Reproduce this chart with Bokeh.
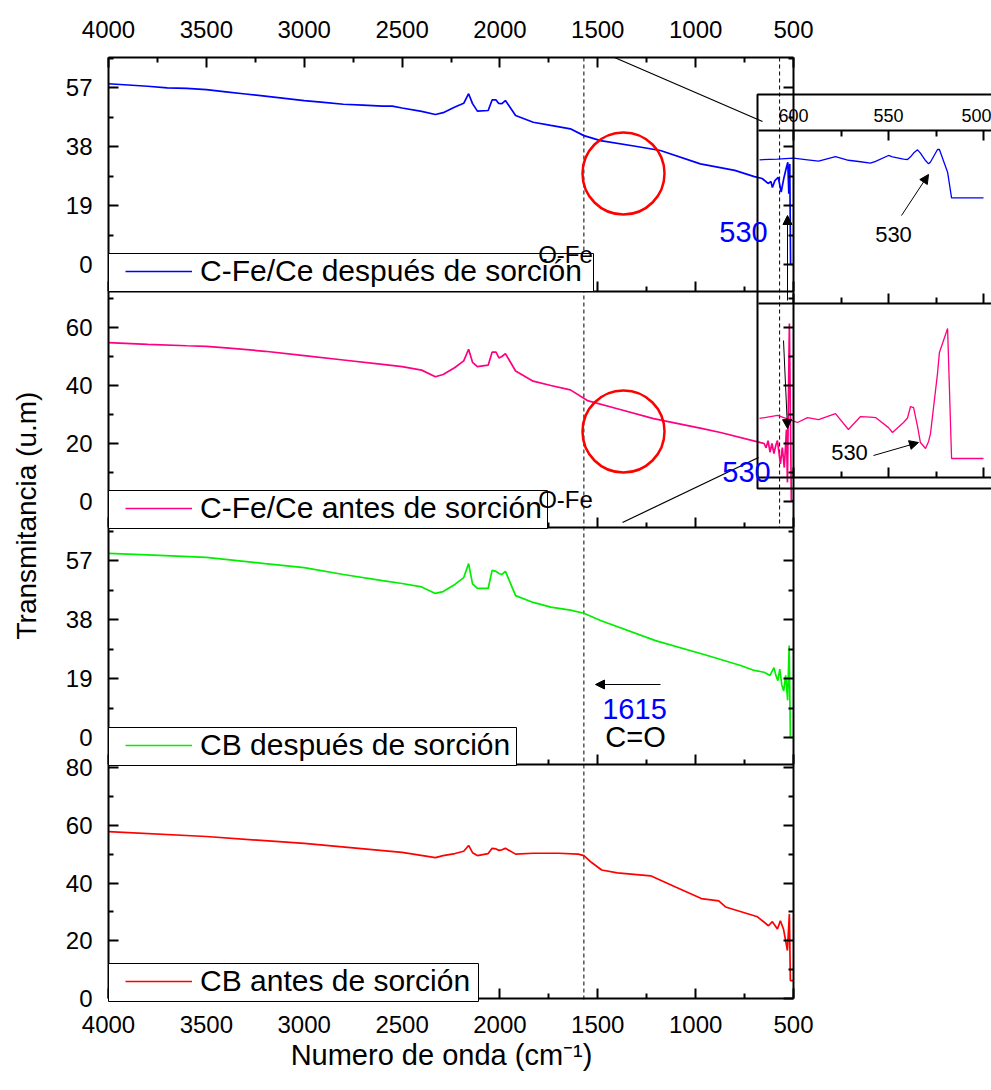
import math
from bokeh.plotting import figure
from bokeh.models import (Range1d, LinearAxis, FixedTicker, BoxAnnotation, Legend,
                          LegendItem, Label, Arrow, NormalHead)
from bokeh.embed import file_html
from bokeh.resources import INLINE

# ------------------------------------------------------------------ data
wn_cfece_despues = [4000, 3900, 3800, 3700, 3600, 3500, 3400, 3300, 3200, 3100, 3000, 2900,
                    2800, 2700, 2600, 2550, 2500, 2400, 2330, 2290, 2230, 2185, 2160, 2140,
                    2115, 2060, 2040, 2020, 2007, 1990, 1972, 1920, 1830, 1740, 1640, 1571,
                    1486, 1300, 1180, 976, 800, 700, 660, 630, 615, 608, 595, 578, 563, 550,
                    536, 529, 524, 519, 515, 500]
t_cfece_despues = [58.2, 57.8, 57.4, 56.9, 56.7, 56.3, 55.6, 54.9, 54.2, 53.5, 52.8, 52.2,
                   51.6, 51.3, 51.0, 51.0, 50.4, 49.3, 48.3, 48.9, 50.7, 51.9, 55.0, 51.8,
                   49.4, 49.6, 53.0, 53.0, 51.9, 51.8, 52.8, 48.0, 45.8, 44.8, 43.7, 41.5,
                   39.9, 38.0, 36.7, 32.4, 30.3, 28.3, 27.7, 26.1, 26.7, 24.8, 27.0, 28.1,
                   23.3, 27.6, 31.3, 32.9, 22.8, 32.4, 0.0, 0.0]

wn_cfece_antes = [4000, 3800, 3600, 3500, 3400, 3200, 3000, 2800, 2600, 2500, 2400, 2330,
                  2290, 2230, 2185, 2160, 2140, 2115, 2060, 2040, 2020, 2005, 1990, 1972,
                  1920, 1830, 1740, 1640, 1553, 1400, 1215, 971, 873, 668, 650, 640, 630,
                  620, 610, 600, 590, 582, 567, 557, 547, 536, 531, 521, 511, 500]
t_cfece_antes = [54.8, 54.2, 53.7, 53.5, 53.0, 51.8, 50.3, 48.8, 47.3, 46.5, 45.3, 43.0,
                 43.8, 46.2, 48.5, 52.5, 48.0, 46.5, 47.0, 51.5, 51.5, 49.5, 50.0, 51.0,
                 45.0, 41.5, 40.0, 38.5, 34.8, 32.0, 28.6, 25.2, 23.8, 20.3, 20.0, 18.5,
                 21.0, 17.0, 20.0, 16.5, 19.5, 21.0, 13.0, 18.6, 11.7, 24.8, 6.6, 61.4,
                 0.3, 0.3]

wn_cb_despues = [4000, 3800, 3500, 3200, 3000, 2800, 2600, 2500, 2400, 2330, 2290, 2230,
                 2185, 2160, 2140, 2115, 2060, 2040, 2020, 2005, 1990, 1972, 1920, 1830,
                 1740, 1640, 1571, 1486, 1205, 940, 770, 700, 650, 620, 600, 590, 580, 570,
                 560, 550, 540, 530, 522, 516, 500]
t_cb_despues = [59.3, 58.8, 58.0, 56.0, 54.7, 52.5, 50.5, 49.6, 48.5, 46.4, 47.0, 49.3,
                51.5, 56.0, 49.5, 48.0, 48.0, 53.8, 53.5, 52.8, 52.5, 53.5, 45.7, 43.5,
                42.0, 41.0, 40.0, 37.7, 31.2, 26.4, 23.2, 21.6, 21.0, 20.0, 22.5, 20.0,
                18.3, 22.0, 17.0, 15.0, 20.0, 12.0, 29.6, 0.0, 0.0]

wn_cb_antes = [4000, 3500, 3000, 2500, 2330, 2290, 2230, 2185, 2160, 2140, 2115, 2060,
               2040, 2020, 2005, 1990, 1972, 1920, 1829, 1700, 1600, 1571, 1530, 1480,
               1400, 1230, 1100, 971, 882, 847, 684, 628, 608, 582, 567, 551, 531, 521,
               516, 500]
t_cb_antes = [57.8, 56.1, 53.7, 50.6, 48.8, 49.5, 50.2, 51.0, 53.0, 50.5, 49.5, 50.2,
              52.0, 51.8, 51.3, 51.5, 52.0, 50.0, 50.3, 50.3, 50.0, 49.5, 47.0, 44.5,
              43.5, 42.5, 38.5, 34.6, 33.8, 31.7, 28.3, 25.2, 26.6, 24.1, 26.9, 24.0,
              16.6, 29.3, 6.2, 6.2]

inset_wn = [617.9, 608.4, 600.0, 597.9, 592.6, 586.8, 577.9, 571.1, 564.7, 559.5, 556.8,
            550.0, 547.9, 542.1, 540.0, 538.4, 536.8, 534.7, 533.2, 530.5, 528.9, 527.9,
            524.2, 523.2, 518.9, 516.8, 500.0]
inset_cfece_despues = [25.5, 26.0, 26.6, 26.3, 25.5, 24.6, 27.6, 25.2, 24.2, 23.2, 24.5,
                       28.4, 27.5, 25.9, 25.7, 27.5, 30.0, 32.2, 30.0, 25.0, 22.8, 24.0,
                       32.4, 32.4, 17.2, 0.0, 0.0]
inset_cfece_antes = [18.8, 20.2, 17.5, 16.9, 19.2, 18.3, 21.1, 13.6, 19.7, 19.4, 19.2,
                     14.5, 12.2, 16.9, 19.0, 24.4, 23.9, 15.0, 7.5, 4.7, 8.0, 11.7,
                     40.0, 49.8, 61.0, 0.0, 0.0]

series_labels = ["C-Fe/Ce después de sorción", "C-Fe/Ce antes de sorción",
                 "CB después de sorción", "CB antes de sorción"]
series_colors = ["#0000FF", "#FF0080", "#00EE00", "#FF0000"]

x_ticks = [4000, 3500, 3000, 2500, 2000, 1500, 1000, 500]
x_minor = [3750, 3250, 2750, 2250, 1750, 1250, 750]
y_ticks = [[0, 19, 38, 57], [0, 20, 40, 60], [0, 19, 38, 57], [0, 20, 40, 60, 80]]
y_minor = [[9.5, 28.5, 47.5, 66.5], [10, 30, 50, 70], [9.5, 28.5, 47.5, 66.5], [10, 30, 50, 70]]
inset_ticks = [600, 550, 500]
inset_minor = [575, 525]
marker_wn = [1571, 571]

# ------------------------------------------------------------------ layout
W, H = 991, 1090
MAIN_TOP, MAIN_BOTTOM = 57, 998
FONT = "Liberation Sans"


def lin(v1, p1, v2, p2, px):
    return v1 + (px - p1) * (v2 - v1) / (p2 - p1)


def rng(cal, lo_px, hi_px):
    return Range1d(start=lin(*cal, lo_px), end=lin(*cal, hi_px))


x_cal = (4000, 108, 500, 793)
ix_cal = (600, 793, 500, 983)
iu_cal = (0, 197.3, 30, 197.3 - 30 * 1.49)
il_cal = (0, 458, 60, 458 - 60 * 2.13)

panel_cal = [(57, 87, 0, 264), (60, 327, 0, 501), (57, 560, 0, 737), (80, 767, 0, 998)]
panel_px = [(57, 291), (291, 527), (527, 764), (764, 998)]
legend_cy = [272, 509, 746, 982]
legend_right = [593, 547, 516, 478]

p = figure(width=W, height=H, output_backend="svg", toolbar_location=None, title=None,
           x_range=rng(x_cal, 0, W), y_range=Range1d(start=H, end=0),
           x_axis_location=None, y_axis_location=None,
           min_border_left=0, min_border_right=0, min_border_top=0, min_border_bottom=0)
p.outline_line_color = None
p.background_fill_color = "white"
p.border_fill_color = "white"
p.grid.visible = False
p.extra_x_ranges = {"sx": Range1d(start=0, end=W), "ix": rng(ix_cal, 0, W)}
p.extra_y_ranges = {"iu": rng(iu_cal, H, 0), "il": rng(il_cal, H, 0)}
for i, cal in enumerate(panel_cal):
    p.extra_y_ranges["p%d" % i] = rng(cal, H, 0)


def style(ax, labels=True, size="24px", standoff=14, major=10, minor=5):
    ax.axis_line_width = 2
    ax.axis_line_color = "black"
    ax.major_tick_line_width = 2
    ax.minor_tick_line_width = 2
    ax.major_tick_line_color = "black"
    ax.minor_tick_line_color = "black"
    ax.major_tick_in = major
    ax.major_tick_out = 0
    ax.minor_tick_in = minor
    ax.minor_tick_out = 0
    ax.major_label_text_font = FONT
    ax.major_label_text_font_size = size
    ax.major_label_text_color = "black" if labels else None
    ax.major_label_standoff = standoff
    return ax


xs = [wn_cfece_despues, wn_cfece_antes, wn_cb_despues, wn_cb_antes]
ys = [t_cfece_despues, t_cfece_antes, t_cb_despues, t_cb_antes]

# dashed marker lines
p.segment(x0=[marker_wn[0]], y0=[MAIN_TOP], x1=[marker_wn[0]], y1=[MAIN_BOTTOM + 4],
          line_color="black", line_width=1, line_dash="4 3")
p.segment(x0=[marker_wn[1]], y0=[MAIN_TOP], x1=[marker_wn[1]], y1=[panel_px[1][1]],
          line_color="black", line_width=1, line_dash="4 3")

renderers = []
for i in range(4):
    name = "p%d" % i
    cal = panel_cal[i]
    top, bot = panel_px[i]
    vtop, vbot = lin(*cal, top), lin(*cal, bot)
    r = p.line(xs[i], ys[i], y_range_name=name, line_color=series_colors[i], line_width=1.7)
    renderers.append(r)
    left = style(LinearAxis(y_range_name=name, fixed_location=4000, bounds=(vbot, vtop),
                            ticker=FixedTicker(ticks=y_ticks[i], minor_ticks=y_minor[i])),
                 standoff=16)
    p.add_layout(left, "left")
    right = style(LinearAxis(y_range_name=name, fixed_location=500, bounds=(vbot, vtop),
                             ticker=FixedTicker(ticks=y_ticks[i], minor_ticks=y_minor[i])),
                  labels=False)
    p.add_layout(right, "right")
    below = style(LinearAxis(y_range_name=name, fixed_location=vbot, bounds=(500, 4000),
                             ticker=FixedTicker(ticks=x_ticks, minor_ticks=x_minor)),
                  labels=(i == 3), standoff=17)
    p.add_layout(below, "below")
    if i == 0:
        above = style(LinearAxis(y_range_name=name, fixed_location=vtop, bounds=(500, 4000),
                                 ticker=FixedTicker(ticks=x_ticks, minor_ticks=x_minor)),
                      standoff=20)
        p.add_layout(above, "above")

# inset
ir1 = p.line(inset_wn, inset_cfece_despues, x_range_name="ix", y_range_name="iu",
             line_color=series_colors[0], line_width=1.3)
ir2 = p.line(inset_wn, inset_cfece_antes, x_range_name="ix", y_range_name="il",
             line_color=series_colors[1], line_width=1.3)
ileft = lin(*ix_cal, 758)
iright = lin(*ix_cal, 1100)
itop = style(LinearAxis(x_range_name="ix", y_range_name="iu", fixed_location=lin(*iu_cal, 130),
                        bounds=(iright, ileft),
                        ticker=FixedTicker(ticks=inset_ticks, minor_ticks=inset_minor)),
             size="18px", standoff=9, major=10, minor=6)
p.add_layout(itop, "above")
imid = style(LinearAxis(x_range_name="ix", y_range_name="iu", fixed_location=lin(*iu_cal, 303),
                        bounds=(iright, ileft),
                        ticker=FixedTicker(ticks=inset_ticks, minor_ticks=inset_minor)),
             labels=False, major=10, minor=6)
p.add_layout(imid, "below")
ibot = style(LinearAxis(x_range_name="ix", y_range_name="il", fixed_location=lin(*il_cal, 477),
                        bounds=(iright, ileft),
                        ticker=FixedTicker(ticks=inset_ticks, minor_ticks=inset_minor)),
             labels=False, major=10, minor=6)
p.add_layout(ibot, "below")
p.add_layout(BoxAnnotation(left=757, right=1100, top=94, bottom=488, x_range_name="sx",
                           fill_alpha=0, line_color="black", line_alpha=1, line_width=2))

# connector lines
p.line([614, 762], [57, 121], x_range_name="sx", line_color="black", line_width=1.2)
p.line([622, 758], [522, 457], x_range_name="sx", line_color="black", line_width=1.2)

# red circles
p.scatter([623, 623], [173, 431], x_range_name="sx", size=82, marker="circle",
          fill_color=None, line_color="red", line_width=2.5)

# legends
for i in range(4):
    cy = legend_cy[i]
    p.add_layout(BoxAnnotation(left=108, right=legend_right[i], top=cy - 19, bottom=cy + 19,
                               x_range_name="sx", fill_color="white", fill_alpha=1,
                               line_color="black", line_alpha=1, line_width=1))
    leg = Legend(items=[LegendItem(label=series_labels[i], renderers=[renderers[i]])],
                 location=(125, H - (cy + 16)), border_line_color=None,
                 background_fill_alpha=0, padding=0, margin=0, spacing=0,
                 glyph_width=67, glyph_height=32, label_height=32, label_standoff=8,
                 label_text_font=FONT, label_text_font_size="30px", label_text_color="black")
    p.add_layout(leg)


def txt(x, y, t, size, color="black", angle=0.0):
    p.add_layout(Label(x=x, y=y, x_range_name="sx", text=t, text_font=FONT,
                       text_font_size=size, text_color=color, text_align="center",
                       text_baseline="middle", angle=angle))


txt(565, 254, "O-Fe", "24px")
txt(565, 499, "O-Fe", "24px")
txt(743, 231, "530", "29px", "#0000FF")
txt(746, 471, "530", "29px", "#0000FF")
txt(634, 708, "1615", "29px", "#0000FF")
txt(635, 736, "C=O", "29px")
txt(893, 234, "530", "22px")
txt(849, 452, "530", "22px")
txt(26, 515, "Transmitancia (u.m)", "28px", angle=math.pi / 2)
txt(441, 1054, "Numero de onda (cm⁻¹)", "29px")


def arrow(x0, y0, x1, y1, size=9):
    p.add_layout(Arrow(x_start=x0, y_start=y0, x_end=x1, y_end=y1, x_range_name="sx",
                       line_color="black", line_width=1,
                       end=NormalHead(size=size, fill_color="black", line_color="black")))


arrow(660, 684, 595, 684)
arrow(787, 300, 787, 215)
arrow(783, 340, 787, 428)
arrow(901, 215, 928, 174)
arrow(873, 455, 918, 442)

open("out.html", "w").write(file_html(p, INLINE))
